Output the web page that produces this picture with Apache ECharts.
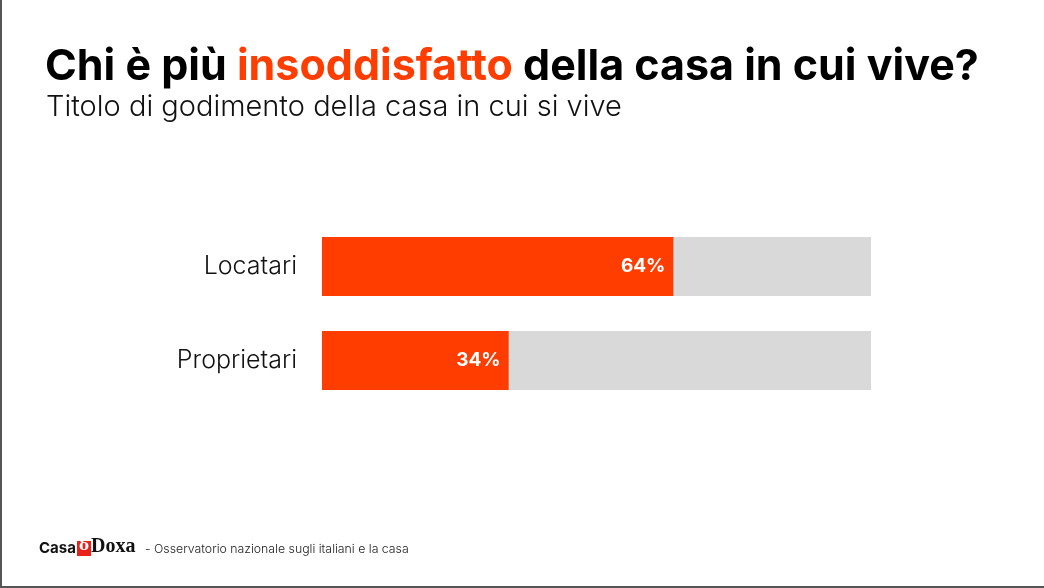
<!DOCTYPE html>
<html><head><meta charset="utf-8">
<script src="https://cdn.jsdelivr.net/npm/echarts@6/dist/echarts.min.js"></script>
<style>
html,body{margin:0;padding:0;background:#fff;}
#frame{position:absolute;left:0;top:0;width:1044px;height:588px;box-sizing:border-box;border-left:2px solid #555;border-bottom:2px solid #555;}
#c{position:absolute;left:0;top:0;width:1044px;height:588px;}
</style></head>
<body>
<div id="frame"></div>
<div id="c"></div>
<script>
const categories = ['Locatari', 'Proprietari'];
const values = [64, 34];
const titleParts = ['Chi è più ', 'insoddisfatto', ' della casa in cui vive?'];
const subtitle = 'Titolo di godimento della casa in cui si vive';
const footerText = '- Osservatorio nazionale sugli italiani e la casa';

const ORANGE = '#FF3D00';
const chart = echarts.init(document.getElementById('c'), null, {renderer: 'canvas'});
chart.setOption({
  backgroundColor: 'transparent',
  animation: false,
  title: [{
    left: 45, top: 46, padding: 0,
    text: '{b|' + titleParts[0] + '}{o|' + titleParts[1] + '}{b|' + titleParts[2] + '}',
    textStyle: {
      rich: {
        b: {fontFamily: 'Inter', fontWeight: 700, fontSize: 43, color: '#000'},
        o: {fontFamily: 'Inter', fontWeight: 700, fontSize: 43, color: ORANGE}
      }
    }
  }, {
    left: 46, top: 93, padding: 0,
    text: subtitle,
    textStyle: {fontFamily: 'Inter', fontWeight: 300, fontSize: 29, color: '#111'}
  }],
  grid: {left: 322, right: 173, top: 219.5, height: 188, containLabel: false},
  xAxis: {type: 'value', min: 0, max: 100, show: false},
  yAxis: {
    type: 'category', data: categories, inverse: true,
    axisLine: {show: false}, axisTick: {show: false},
    axisLabel: {margin: 25, fontFamily: 'Inter', fontWeight: 300, fontSize: 25, color: '#111'}
  },
  series: [{
    type: 'bar', data: values, barWidth: 59,
    itemStyle: {color: ORANGE},
    showBackground: true,
    backgroundStyle: {color: '#D9D9D9'},
    label: {
      show: true, position: 'insideRight', distance: 8,
      formatter: '{c}%', color: '#fff', fontFamily: 'Inter', fontWeight: 700, fontSize: 19
    }
  }],
  graphic: [
    {type: 'text', left: 39, top: 541, style: {text: 'Casa', fontFamily: 'Inter', fontWeight: 700, fontSize: 15, fill: '#111'}},
    {type: 'rect', left: 77, top: 541, shape: {width: 14, height: 15}, style: {fill: '#E8221B'}},
    {type: 'text', left: 79, top: 539, style: {text: 'δ', fontFamily: 'DejaVu Serif', fontWeight: 700, fontSize: 15, fill: '#fff'}},
    {type: 'text', left: 91, top: 537, style: {text: 'Doxa', fontFamily: 'Liberation Serif', fontWeight: 700, fontSize: 20, fill: '#111'}},
    {type: 'text', left: 145, top: 543, style: {text: footerText, fontFamily: 'Inter', fontWeight: 300, fontSize: 12.3, fill: '#222'}}
  ]
});
</script>
</body></html>
